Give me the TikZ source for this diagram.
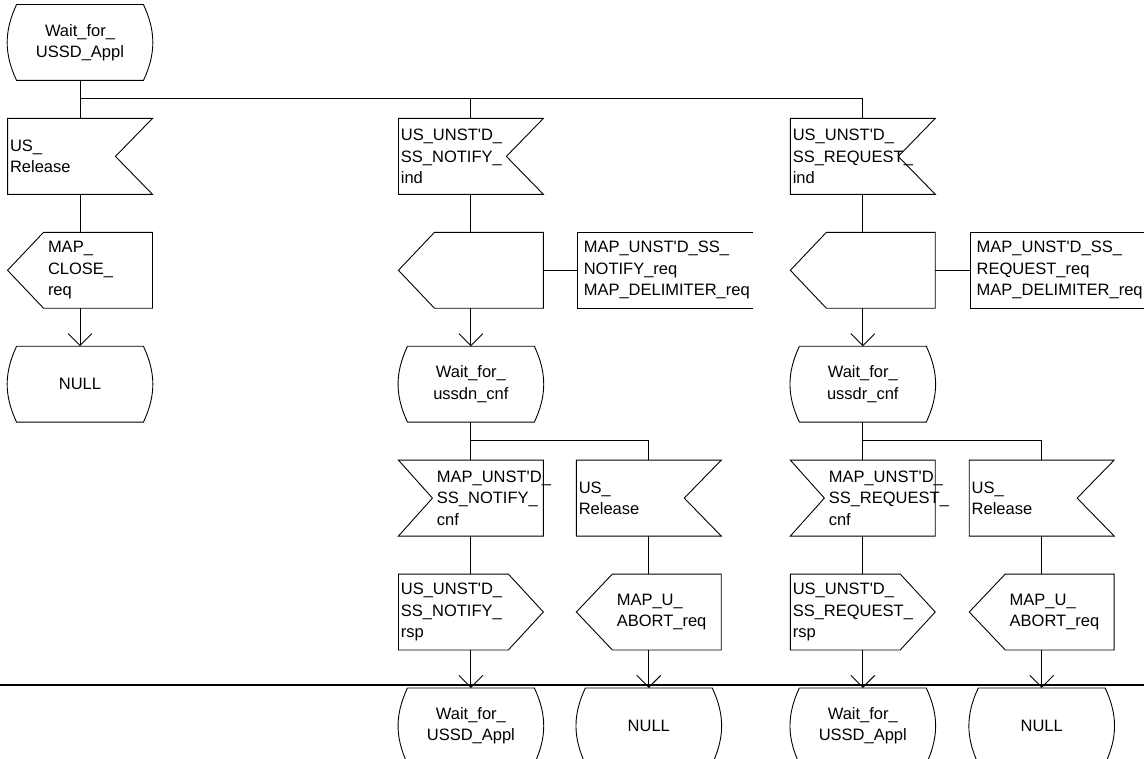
\documentclass[tikz,border=0pt]{standalone}
\usepackage{fontspec}
\newfontfamily\sdlfont{Liberation Sans}[Ligatures=TeXOff]
\usetikzlibrary{positioning,arrows.meta}
\hyphenpenalty=10000
\exhyphenpenalty=10000

\begin{document}
\begin{tikzpicture}[%
    x=1pt,y=1pt,line width=0.9pt,
    >={Straight Barb[length=12pt,width=24pt]},
    every node/.style={font=\sdlfont\fontsize{16.5}{21.5}\selectfont}]
    \useasboundingbox (0,0) rectangle (1144,-759);
    \tikzstyle{base}=[node distance=38pt,minimum width=144pt,minimum height=75pt,inner ysep=0pt]
    \tikzstyle{state}=[base,align=center,inner xsep=0pt,
      append after command={\pgfextra{\draw ([xshift=9pt]\tikzlastnode.north west)
        -- ([xshift=-9pt]\tikzlastnode.north east) to[bend left=25] ([xshift=-9pt]\tikzlastnode.south east)
        -- ([xshift=9pt]\tikzlastnode.south west) to[bend left=25] ([xshift=9pt]\tikzlastnode.north west);}}]
    \tikzstyle{input}=[base,align=left,text width=140pt,inner xsep=2pt,
      append after command={\pgfextra{\draw (\tikzlastnode.north west) -- (\tikzlastnode.north east)
        -- ([xshift=-37pt]\tikzlastnode.east) -- (\tikzlastnode.south east) -- (\tikzlastnode.south west) -- cycle;}}]
    \tikzstyle{revinput}=[base,align=left,text width=68pt,inner xsep=38pt,
      append after command={\pgfextra{\draw (\tikzlastnode.north west) -- (\tikzlastnode.north east)
        -- (\tikzlastnode.south east) -- (\tikzlastnode.south west) -- ([xshift=34pt]\tikzlastnode.west) -- cycle;}}]
    \tikzstyle{outright}=[base,align=left,text width=140pt,inner xsep=2pt,
      append after command={\pgfextra{\draw (\tikzlastnode.north west) -- ([xshift=-35pt]\tikzlastnode.north east)
        -- (\tikzlastnode.east) -- ([xshift=-35pt]\tikzlastnode.south east) -- (\tikzlastnode.south west) -- cycle;}}]
    \tikzstyle{outleft}=[base,align=left,text width=64pt,inner xsep=40pt,
      append after command={\pgfextra{\draw ([xshift=36pt]\tikzlastnode.north west) -- (\tikzlastnode.north east)
        -- (\tikzlastnode.south east) -- ([xshift=36pt]\tikzlastnode.south west) -- (\tikzlastnode.west) -- cycle;}}]
    \tikzstyle{textbox}=[base,minimum width=175pt,align=left,text width=163pt,inner xsep=6pt,
      append after command={\pgfextra{\draw (\tikzlastnode.north east) -- (\tikzlastnode.north west)
        -- (\tikzlastnode.south west) -- (\tikzlastnode.south east);}}]
    % Release branch
    \node (waitTop) [state] at (80,-42.5)        {Wait\_for\_\\USSD\_Appl};
    \node (relA) [input,below=of waitTop]        {US\_\\Release};
    \node (closeA) [outleft,below=of relA]       {MAP\_\\CLOSE\_\\req};
    \node (nullA) [state,below=of closeA]        {NULL};
    % Notify branch
    \node (notifyInd) [input,right=246pt of relA]
          {US\_UNST'D\_\\SS\_NOTIFY\_\\ind};
    \node (notifyOut) [outleft,below=of notifyInd] {};
    \node (notifyTxt) [textbox,right=34pt of notifyOut]
          {MAP\_UNST'D\_SS\_\\NOTIFY\_req\\MAP\_DELIMITER\_req};
    \node (waitN) [state,below=of notifyOut]     {Wait\_for\_\\ussdn\_cnf};
    \node (notifyCnf) [revinput,below=of waitN]
          {MAP\_UNST'D\_\\SS\_NOTIFY\_\\cnf};
    \node (relN) [input,right=33pt of notifyCnf] {US\_\\Release};
    \node (notifyRsp) [outright,below=of notifyCnf]
          {US\_UNST'D\_\\SS\_NOTIFY\_\\rsp};
    \node (abortN) [outleft,below=of relN]       {MAP\_U\_\\ABORT\_req};
    \node (applN) [state,below=of notifyRsp]     {Wait\_for\_\\USSD\_Appl};
    \node (nullN) [state,below=of abortN]        {NULL};
    % Request branch
    \node (requestInd) [input,right=247pt of notifyInd]
          {US\_UNST'D\_\\SS\_REQUEST\_\\ind};
    \node (requestOut) [outleft,below=of requestInd] {};
    \node (requestTxt) [textbox,right=35pt of requestOut]
          {MAP\_UNST'D\_SS\_\\REQUEST\_req\\MAP\_DELIMITER\_req};
    \node (waitR) [state,below=of requestOut]    {Wait\_for\_\\ussdr\_cnf};
    \node (requestCnf) [revinput,below=of waitR]
          {MAP\_UNST'D\_\\SS\_REQUEST\_\\cnf};
    \node (relR) [input,right=34pt of requestCnf] {US\_\\Release};
    \node (requestRsp) [outright,below=of requestCnf]
          {US\_UNST'D\_\\SS\_REQUEST\_\\rsp};
    \node (abortR) [outleft,below=of relR]       {MAP\_U\_\\ABORT\_req};
    \node (applR) [state,below=of requestRsp]    {Wait\_for\_\\USSD\_Appl};
    \node (nullR) [state,below=of abortR]        {NULL};
    % Forks
    \coordinate (forkTop) at ([yshift=-18pt]waitTop.south);
    \coordinate (forkN) at ([yshift=-18pt]waitN.south);
    \coordinate (forkR) at ([yshift=-18pt]waitR.south);
    % Edges
    \draw (waitTop) -- (relA);
    \draw (forkTop) -| (notifyInd);
    \draw (forkTop) -| (requestInd);
    \draw (relA) -- (closeA);
    \draw [->] (closeA) -- (nullA);
    \draw (notifyInd) -- (notifyOut);
    \draw (notifyOut) -- (notifyTxt);
    \draw [->] (notifyOut) -- (waitN);
    \draw (waitN) -- (notifyCnf);
    \draw (forkN) -| (relN);
    \draw (notifyCnf) -- (notifyRsp);
    \draw [->] (notifyRsp) -- (applN);
    \draw (relN) -- (abortN);
    \draw [->] (abortN) -- (nullN);
    \draw (requestInd) -- (requestOut);
    \draw (requestOut) -- (requestTxt);
    \draw [->] (requestOut) -- (waitR);
    \draw (waitR) -- (requestCnf);
    \draw (forkR) -| (relR);
    \draw (requestCnf) -- (requestRsp);
    \draw [->] (requestRsp) -- (applR);
    \draw (relR) -- (abortR);
    \draw [->] (abortR) -- (nullR);
    % Page rule
    \draw [line width=1.8pt] (0,-685) -- (1144,-685);
\end{tikzpicture}
\end{document}
